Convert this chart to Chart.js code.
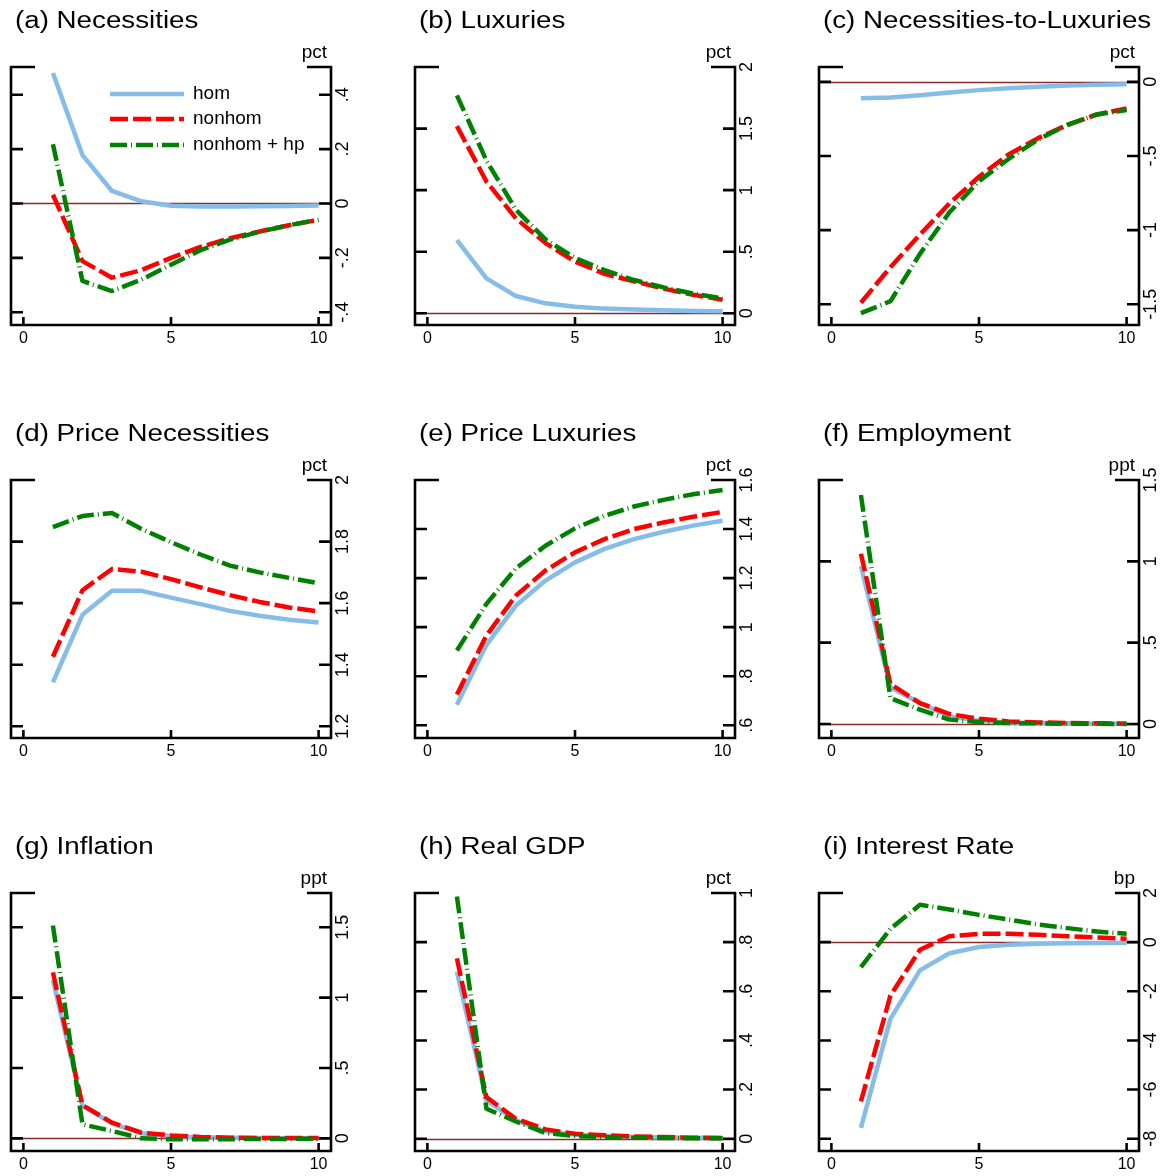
<!DOCTYPE html>
<html>
<head>
<meta charset="utf-8">
<script src="https://cdn.jsdelivr.net/npm/chart.js@4.4.0/dist/chart.umd.min.js"></script>
<style>
  body { margin: 0; background: #fff; }
  #grid { position: relative; width: 1170px; height: 1176px; overflow: hidden; }
  #grid canvas { position: absolute; }
</style>
</head>
<body>
<div id="grid"></div>
<script>
// horizon (quarters after the shock)
const horizon = [1, 2, 3, 4, 5, 6, 7, 8, 9, 10];
const xTicks = [0, 5, 10];
const seriesNames = ['hom', 'nonhom', 'nonhom + hp'];

// (a) Necessities
const necHom    = [0.48, 0.178, 0.046, 0.008, -0.008, -0.011, -0.011, -0.010, -0.009, -0.007];
const necNonhom = [0.032, -0.212, -0.273, -0.245, -0.200, -0.160, -0.128, -0.103, -0.080, -0.060];
const necHp     = [0.218, -0.285, -0.322, -0.280, -0.225, -0.172, -0.133, -0.104, -0.080, -0.060];
const necTicks  = ['-.4', '-.2', '0', '.2', '.4'];

// (b) Luxuries
const luxHom    = [0.595, 0.284, 0.140, 0.081, 0.054, 0.038, 0.030, 0.024, 0.019, 0.016];
const luxNonhom = [1.52, 1.07, 0.77, 0.57, 0.42, 0.32, 0.26, 0.20, 0.15, 0.11];
const luxHp     = [1.77, 1.24, 0.84, 0.60, 0.45, 0.35, 0.27, 0.21, 0.16, 0.12];
const luxTicks  = ['0', '.5', '1', '1.5', '2'];

// (c) Necessities-to-Luxuries
const ratioHom    = [-0.110, -0.106, -0.090, -0.072, -0.056, -0.043, -0.034, -0.025, -0.020, -0.016];
const ratioNonhom = [-1.49, -1.25, -1.03, -0.82, -0.64, -0.49, -0.38, -0.29, -0.22, -0.18];
const ratioHp     = [-1.56, -1.48, -1.16, -0.88, -0.67, -0.52, -0.39, -0.29, -0.22, -0.19];
const ratioTicks  = ['-1.5', '-1', '-.5', '0'];

// (d) Price Necessities
const pNecHom    = [1.343, 1.562, 1.640, 1.640, 1.618, 1.597, 1.575, 1.559, 1.546, 1.537];
const pNecNonhom = [1.426, 1.642, 1.711, 1.702, 1.678, 1.651, 1.626, 1.604, 1.586, 1.573];
const pNecHp     = [1.847, 1.883, 1.893, 1.841, 1.798, 1.758, 1.722, 1.700, 1.682, 1.665];
const pNecTicks  = ['1.2', '1.4', '1.6', '1.8', '2'];

// (e) Price Luxuries
const pLuxHom    = [0.684, 0.928, 1.088, 1.190, 1.264, 1.319, 1.359, 1.389, 1.414, 1.434];
const pLuxNonhom = [0.725, 0.966, 1.129, 1.231, 1.305, 1.359, 1.400, 1.427, 1.450, 1.470];
const pLuxHp     = [0.905, 1.095, 1.240, 1.332, 1.403, 1.454, 1.492, 1.519, 1.542, 1.559];
const pLuxTicks  = ['.6', '.8', '1', '1.2', '1.4', '1.6'];

// (f) Employment
const empHom    = [0.971, 0.224, 0.129, 0.047, 0.020, 0.010, 0.006, 0.004, 0.002, 0.002];
const empNonhom = [1.047, 0.245, 0.129, 0.061, 0.033, 0.016, 0.010, 0.006, 0.004, 0.002];
const empHp     = [1.408, 0.159, 0.088, 0.027, 0.012, 0.006, 0.004, 0.002, 0.001, 0.000];
const empTicks  = ['0', '.5', '1', '1.5'];

// (g) Inflation
const inflHom    = [1.124, 0.231, 0.107, 0.036, 0.017, 0.008, 0.005, 0.003, 0.001, 0.000];
const inflNonhom = [1.179, 0.236, 0.112, 0.040, 0.021, 0.010, 0.005, 0.003, 0.002, 0.002];
const inflHp     = [1.512, 0.100, 0.052, 0.000, -0.007, -0.007, -0.006, -0.005, -0.004, -0.003];
const inflTicks  = ['0', '.5', '1', '1.5'];

// (h) Real GDP
const gdpHom    = [0.680, 0.156, 0.075, 0.030, 0.016, 0.011, 0.007, 0.005, 0.004, 0.003];
const gdpNonhom = [0.734, 0.169, 0.081, 0.038, 0.020, 0.014, 0.009, 0.007, 0.004, 0.003];
const gdpHp     = [0.986, 0.122, 0.070, 0.023, 0.011, 0.007, 0.004, 0.003, 0.002, 0.002];
const gdpTicks  = ['0', '.2', '.4', '.6', '.8', '1'];

// (i) Interest Rate
const rateHom    = [-7.56, -3.12, -1.15, -0.45, -0.20, -0.11, -0.07, -0.04, -0.03, -0.02];
const rateNonhom = [-6.48, -2.17, -0.31, 0.24, 0.34, 0.34, 0.30, 0.24, 0.19, 0.14];
const rateHp     = [-1.02, 0.54, 1.52, 1.33, 1.11, 0.92, 0.72, 0.57, 0.43, 0.34];
const rateTicks  = ['-8', '-6', '-4', '-2', '0', '2'];

const panels = [
  { title: '(a) Necessities', unit: 'pct', data: [necHom, necNonhom, necHp], ticks: necTicks, min: -0.447, max: 0.502, legend: true },
  { title: '(b) Luxuries', unit: 'pct', data: [luxHom, luxNonhom, luxHp], ticks: luxTicks, min: -0.095, max: 2.0 },
  { title: '(c) Necessities-to-Luxuries', unit: 'pct', data: [ratioHom, ratioNonhom, ratioHp], ticks: ratioTicks, min: -1.64, max: 0.1 },
  { title: '(d) Price Necessities', unit: 'pct', data: [pNecHom, pNecNonhom, pNecHp], ticks: pNecTicks, min: 1.162, max: 2.0 },
  { title: '(e) Price Luxuries', unit: 'pct', data: [pLuxHom, pLuxNonhom, pLuxHp], ticks: pLuxTicks, min: 0.548, max: 1.6 },
  { title: '(f) Employment', unit: 'ppt', data: [empHom, empNonhom, empHp], ticks: empTicks, min: -0.086, max: 1.5 },
  { title: '(g) Inflation', unit: 'ppt', data: [inflHom, inflNonhom, inflHp], ticks: inflTicks, min: -0.09, max: 1.743 },
  { title: '(h) Real GDP', unit: 'pct', data: [gdpHom, gdpNonhom, gdpHp], ticks: gdpTicks, min: -0.05, max: 1.0 },
  { title: '(i) Interest Rate', unit: 'bp', data: [rateHom, rateNonhom, rateHp], ticks: rateTicks, min: -8.5, max: 2.0 }
];

const FONT = '"Liberation Sans", Arial, Helvetica, sans-serif';
const lineStyles = [
  { borderColor: '#85bce8', borderDash: [], order: 2 },
  { borderColor: '#ff0000', borderDash: [18, 5], order: 1 },
  { borderColor: '#008000', borderDash: [17, 4, 1, 4], order: 0 }
];

// stata-like frame: ticks inside, labels rotated on the right
const stataFrame = {
  id: 'stataFrame',
  beforeDatasetsDraw(chart) {
    const { ctx, chartArea: a, scales: { y } } = chart;
    if (y.min < 0 && y.max > 0) {
      const y0 = Math.round(y.getPixelForValue(0)) + 0.5;
      ctx.save();
      ctx.strokeStyle = '#8b2a2a';
      ctx.lineWidth = 1.3;
      ctx.beginPath();
      ctx.moveTo(a.left, y0);
      ctx.lineTo(a.right, y0);
      ctx.stroke();
      ctx.restore();
    }
  },
  afterDraw(chart, args, opts) {
    const { ctx, chartArea: a, scales: { x, y } } = chart;
    ctx.save();
    ctx.strokeStyle = '#000';
    ctx.lineWidth = 2.6;
    ctx.lineCap = 'butt';
    ctx.beginPath();
    // left and right axes
    ctx.moveTo(a.left, a.top); ctx.lineTo(a.left, a.bottom);
    ctx.moveTo(a.right, a.top); ctx.lineTo(a.right, a.bottom);
    // bottom
    ctx.moveTo(a.left - 1.3, a.bottom); ctx.lineTo(a.right + 1.3, a.bottom);
    // top corners
    ctx.moveTo(a.left - 1.3, a.top); ctx.lineTo(a.left + 24, a.top);
    ctx.moveTo(a.right + 1.3, a.top); ctx.lineTo(a.right - 24, a.top);
    // y ticks both sides
    opts.ticks.forEach(t => {
      const py = y.getPixelForValue(parseFloat(t));
      ctx.moveTo(a.left, py); ctx.lineTo(a.left + 12, py);
      ctx.moveTo(a.right, py); ctx.lineTo(a.right - 12, py);
    });
    xTicks.forEach(t => {
      const px = x.getPixelForValue(t);
      ctx.moveTo(px, a.bottom); ctx.lineTo(px, a.bottom - 8);
    });
    ctx.stroke();

    ctx.fillStyle = '#000';
    // x labels
    ctx.font = '16px ' + FONT;
    ctx.textAlign = 'center';
    ctx.textBaseline = 'top';
    xTicks.forEach(t => ctx.fillText(String(t), x.getPixelForValue(t), a.bottom + 6));
    // y labels, rotated
    ctx.font = '18px ' + FONT;
    opts.ticks.forEach(t => {
      const py = y.getPixelForValue(parseFloat(t));
      ctx.save();
      ctx.translate(a.right + 3.5, py);
      ctx.rotate(-Math.PI / 2);
      ctx.textAlign = 'center';
      ctx.textBaseline = 'top';
      ctx.fillText(t, 0, 0);
      ctx.restore();
    });
    // unit
    ctx.font = '19px ' + FONT;
    ctx.textAlign = 'right';
    ctx.textBaseline = 'alphabetic';
    ctx.fillText(opts.unit, a.right - 4, a.top - 9);
    // title
    ctx.save();
    ctx.translate(15, 28);
    ctx.scale(1.18, 1);
    ctx.font = '23.5px ' + FONT;
    ctx.textAlign = 'left';
    ctx.fillText(opts.title, 0, 0);
    ctx.restore();
    // legend
    if (opts.legend) {
      const rows = [94, 119, 145];
      chart.data.datasets.forEach((ds, i) => {
        ctx.save();
        ctx.strokeStyle = ds.borderColor;
        ctx.lineWidth = 4.5;
        ctx.setLineDash(ds.borderDash);
        ctx.beginPath();
        ctx.moveTo(110, rows[i]); ctx.lineTo(184, rows[i]);
        ctx.stroke();
        ctx.restore();
        ctx.font = '19px ' + FONT;
        ctx.textAlign = 'left';
        ctx.textBaseline = 'middle';
        ctx.fillText(ds.label, 193, rows[i]);
      });
    }
    ctx.restore();
  }
};

const grid = document.getElementById('grid');
panels.forEach((p, i) => {
  const col = i % 3, row = Math.floor(i / 3);
  const cv = document.createElement('canvas');
  const w = 404, h = 413;
  cv.width = w; cv.height = h;
  cv.style.left = (col * 404) + 'px';
  cv.style.top = (row * 413) + 'px';
  cv.style.width = w + 'px';
  cv.style.height = h + 'px';
  grid.appendChild(cv);

  new Chart(cv, {
    type: 'line',
    data: {
      labels: horizon,
      datasets: p.data.map((vals, k) => ({
        label: seriesNames[k],
        data: horizon.map((hq, j) => ({ x: hq, y: vals[j] })),
        borderColor: lineStyles[k].borderColor,
        borderDash: lineStyles[k].borderDash,
        order: lineStyles[k].order,
        borderWidth: 4.5,
        borderCapStyle: 'butt',
        borderJoinStyle: 'round',
        pointRadius: 0,
        tension: 0,
        fill: false
      }))
    },
    options: {
      responsive: false,
      animation: false,
      devicePixelRatio: 1,
      layout: { padding: { left: 11, right: w - 331, top: 67, bottom: h - 325 } },
      scales: {
        x: { type: 'linear', min: -0.42, max: 10.42, display: false },
        y: { min: p.min, max: p.max, display: false }
      },
      plugins: {
        legend: { display: false },
        tooltip: { enabled: false },
        stataFrame: { title: p.title, unit: p.unit, ticks: p.ticks, legend: !!p.legend }
      }
    },
    plugins: [stataFrame]
  });
});
</script>
</body>
</html>
